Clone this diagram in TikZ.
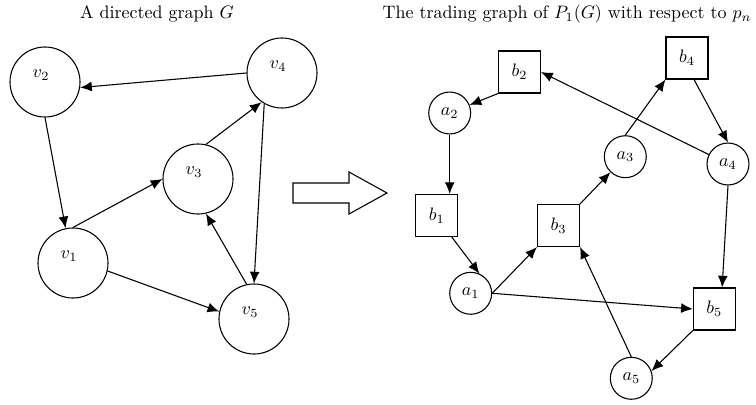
\documentclass[tikz,border=0pt]{standalone}
\usetikzlibrary{arrows.meta}
\begin{document}
\begin{tikzpicture}[x=0.5556pt,y=-0.5556pt,line width=0.6pt,
    vbig/.style={draw,circle,minimum size=38.9pt,inner sep=0pt,
      label={[xshift=-2.2pt,yshift=3.9pt]center:$#1$}},
    vsmall/.style={draw,circle,minimum size=23.3pt,inner sep=0pt},
    vbox/.style={draw,rectangle,minimum size=23.3pt,inner sep=0pt},
    arr/.style={-{Latex[length=6.5pt,width=5.5pt]}}]
  \useasboundingbox (0,0) rectangle (756,405);
  % titles
  \node (tl) at (157,14) {A directed graph $G$};
  \node (tr) at (567,14) {The trading graph of $P_1(G)$ with respect to $p_n$};
  % the graph G
  \node[vbig=v_2] (v2) at (45,82) {};
  \node[vbig=v_4] (v4) at (282,73) {};
  \node[vbig=v_3] (v3) at (198,179) {};
  \node[vbig=v_1] (v1) at (73,263) {};
  \node[vbig=v_5] (v5) at (254,319) {};
  \draw[arr] (v4.west) -- (v2.351);
  \draw[arr] (v2.south) -- (v1.102);
  \draw[arr] (v1.north) -- (v3.west);
  \draw[arr] (v3.77) -- (v4.235);
  \draw[arr] (v4.240) -- (v5.north);
  \draw[arr] (v5.102) -- (v3.283);
  \draw[arr] (v1.347) -- (v5.168);
  % big arrow
  \draw (293,183) -- (349,183) -- (349,172) -- (387,193) -- (349,214)
    -- (349,203) -- (293,203) -- cycle;
  % the trading graph
  \node[vbox] (b2) at (519.5,72) {$b_2$};
  \node[vbox] (b4) at (687,58) {$b_4$};
  \node[vsmall] (a2) at (449.7,113) {$a_2$};
  \node[vsmall] (a3) at (625.3,156.7) {$a_3$};
  \node[vsmall] (a4) at (728,164) {$a_4$};
  \node[vbox] (b1) at (436.7,215.5) {$b_1$};
  \node[vbox] (b3) at (558.5,225.5) {$b_3$};
  \node[vsmall] (a1) at (470.7,293.3) {$a_1$};
  \node[vbox] (b5) at (714.3,309) {$b_5$};
  \node[vsmall] (a5) at (631.3,378.3) {$a_5$};
  \draw[arr] (b2.south west) -- (a2);
  \draw[arr] (a2.south) -- (a2.south |- b1.north);
  \draw[arr] (b1.-55) -- (a1.66);
  \draw[arr] (a1.east) -- (b3.south west);
  \draw[arr] (a1.east) -- (b5.west);
  \draw[arr] (b3.north east) -- (a3);
  \draw[arr] (a3.north) -- (b4.south west);
  \draw[arr] (b4.-72) -- (a4.north);
  \draw[arr] (a4) -- (b2.east);
  \draw[arr] (a4.south) -- (b5.70);
  \draw[arr] (b5.south west) -- (a5.20);
  \draw[arr] (a5.north) -- (b3.south east);
\end{tikzpicture}
\end{document}
